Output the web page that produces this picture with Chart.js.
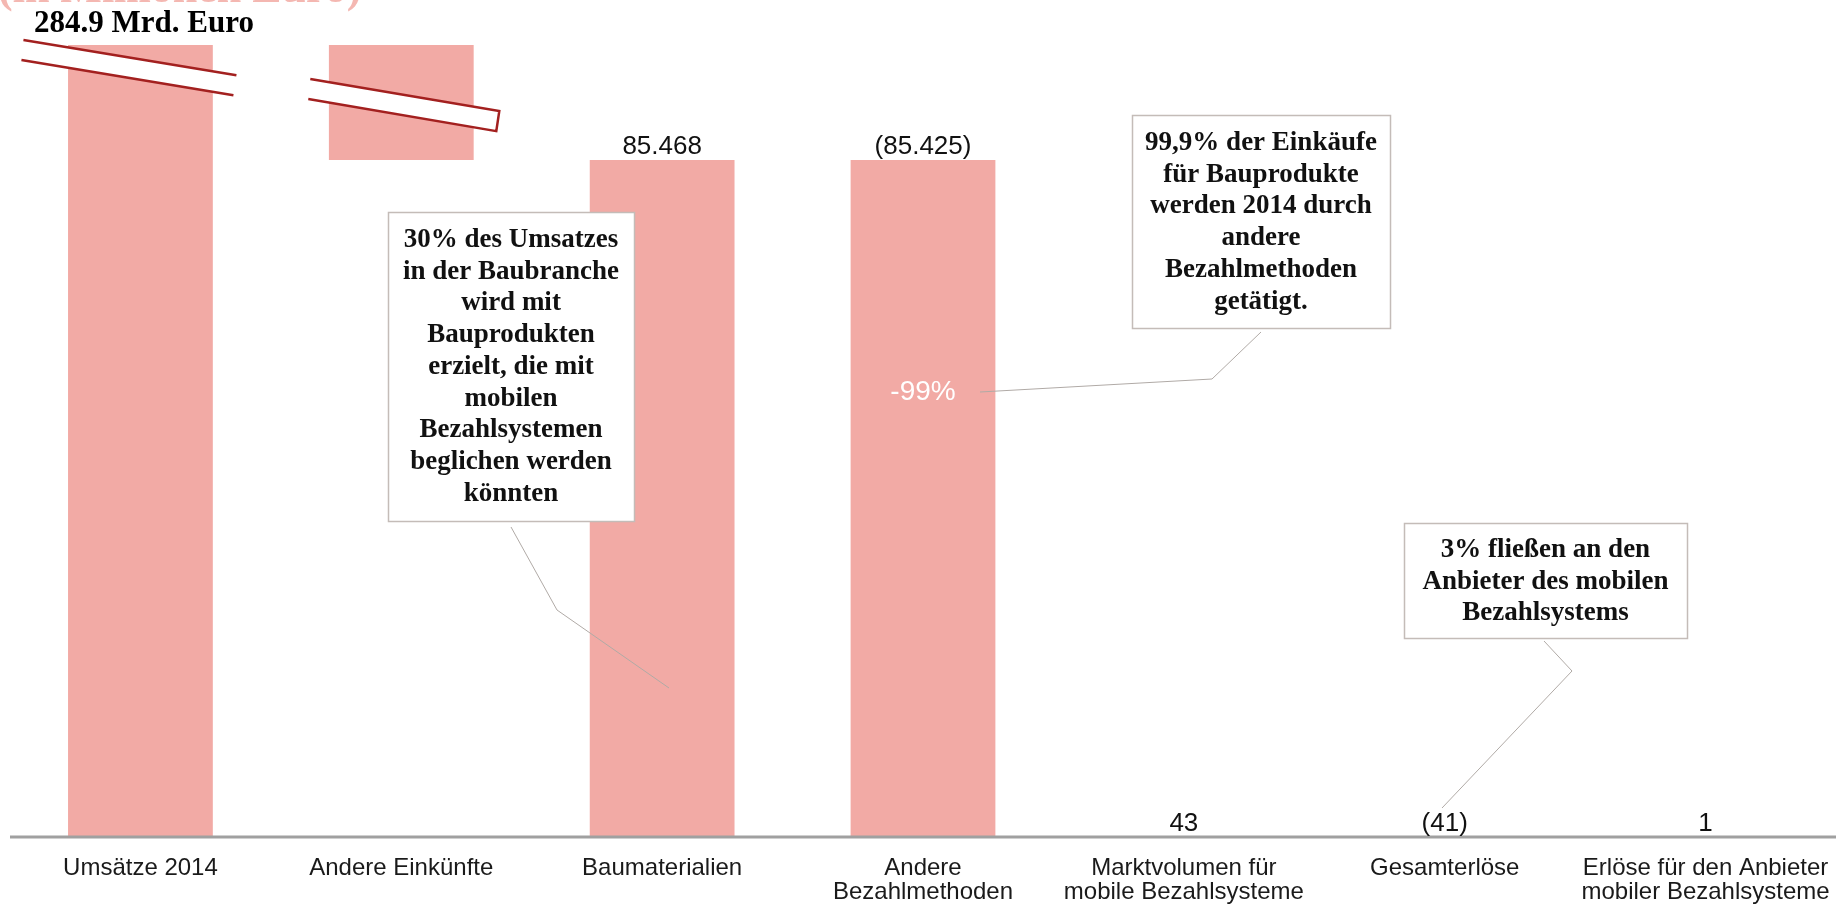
<!DOCTYPE html>
<html>
<head>
<meta charset="utf-8">
<script src="https://cdn.jsdelivr.net/npm/chart.js@4/dist/chart.umd.min.js"></script>
<style>
  html, body { margin: 0; padding: 0; background: #fff; }
  #wrap { width: 1845px; height: 904px; }
</style>
</head>
<body>
<div id="wrap"><canvas id="chart" width="1845" height="904"></canvas></div>
<script>
// Kategorien (Achsenbeschriftung, mehrzeilig)
const categories = [
    ['Umsätze 2014'],
    ['Andere Einkünfte'],
    ['Baumaterialien'],
    ['Andere', 'Bezahlmethoden'],
    ['Marktvolumen für', 'mobile Bezahlsysteme'],
    ['Gesamterlöse'],
    ['Erlöse für den Anbieter', 'mobiler Bezahlsysteme']
];
// Wasserfall: Anfang und Ende jedes Balkens (Mio. Euro)
const barLow  = [0,      85468,  0,     43,    0,  2,  0];
const barHigh = [284900, 284900, 85468, 85468, 43, 43, 1];
// Beschriftungen über den Balken
const valueLabels = ['', '', '85.468', '(85.425)', '43', '(41)', '1'];
// Achse ist unterbrochen, sichtbarer Bereich
const yMin = 0;
const yMax = 100000;

const BAR = '#f2aaa5';
const DARKRED = '#a3201f';
const SANS = '"Liberation Sans", Arial, sans-serif';
const SERIF = '"Liberation Serif", "Times New Roman", serif';

// Hinweisboxen
const callouts = [
    { x: 388, y: 212, w: 246, h: 309, first: 247, lines: ['30% des Umsatzes', 'in der Baubranche', 'wird mit', 'Bauprodukten', 'erzielt, die mit', 'mobilen', 'Bezahlsystemen', 'beglichen werden', 'könnten'],
      path: [[511, 527], [557, 610], [669, 688]] },
    { x: 1132, y: 115, w: 258, h: 213, first: 150, lines: ['99,9% der Einkäufe', 'für Bauprodukte', 'werden 2014 durch', 'andere', 'Bezahlmethoden', 'getätigt.'],
      path: [[980, 392], [1212, 379], [1261, 332]] },
    { x: 1404, y: 523, w: 283, h: 115, first: 557, lines: ['3% fließen an den', 'Anbieter des mobilen', 'Bezahlsystems'],
      path: [[1544, 641], [1572, 671], [1442, 808]] }
];

function drawBreak(ctx, x0, y0, len, slope, gap, closeRight) {
    const x1 = x0 + len, y1 = y0 + len * slope;
    ctx.save();
    ctx.fillStyle = '#fff';
    ctx.beginPath();
    ctx.moveTo(x0, y0); ctx.lineTo(x1, y1);
    ctx.lineTo(x1 - 3, y1 + gap); ctx.lineTo(x0 - 2, y0 + gap);
    ctx.closePath();
    ctx.fill();
    ctx.strokeStyle = DARKRED;
    ctx.lineWidth = 2.5;
    ctx.beginPath();
    ctx.moveTo(x0, y0); ctx.lineTo(x1, y1);
    if (closeRight) ctx.lineTo(x1 - 3, y1 + gap); else ctx.moveTo(x1 - 3, y1 + gap);
    ctx.lineTo(x0 - 2, y0 + gap);
    ctx.stroke();
    ctx.restore();
}

const decorations = {
    id: 'decorations',
    afterDatasetsDraw(chart) {
        const ctx = chart.ctx;
        const xs = chart.scales.x, ys = chart.scales.y;
        const area = chart.chartArea;

        // Achsenlinie
        ctx.save();
        ctx.strokeStyle = '#a0a0a0';
        ctx.lineWidth = 3;
        ctx.beginPath();
        ctx.moveTo(area.left, area.bottom);
        ctx.lineTo(area.right, area.bottom);
        ctx.stroke();

        // Werte über den Balken
        ctx.fillStyle = '#111';
        ctx.font = '26px ' + SANS;
        ctx.textAlign = 'center';
        ctx.textBaseline = 'alphabetic';
        valueLabels.forEach((t, i) => {
            if (!t) return;
            const top = Math.min(ys.getPixelForValue(barHigh[i]), area.bottom);
            ctx.fillText(t, xs.getPixelForValue(i), top - 6);
        });

        // Prozentangabe im Balken
        ctx.fillStyle = '#fff';
        ctx.font = '28px ' + SANS;
        ctx.fillText('-99%', xs.getPixelForValue(3), 400);

        // Kategorien
        ctx.fillStyle = '#1a1a1a';
        ctx.font = '24px ' + SANS;
        categories.forEach((lines, i) => {
            lines.forEach((l, j) => ctx.fillText(l, xs.getPixelForValue(i), 875 + j * 24));
        });
        ctx.restore();

        // Achsenbruch
        const c0 = xs.getPixelForValue(0), c1 = xs.getPixelForValue(1);
        drawBreak(ctx, c0 - 117, 40, 213, 0.165, 20, false);
        drawBreak(ctx, c1 - 91, 79, 189, 0.17, 20, true);

        // Einheit (oben angeschnitten) und Gesamtwert
        ctx.save();
        ctx.textAlign = 'left';
        ctx.fillStyle = '#f4b7b1';
        ctx.font = 'bold 44px ' + SERIF;
        ctx.fillText('(in Millionen Euro)', -2, 2);
        ctx.fillStyle = '#000';
        ctx.font = 'bold 31px ' + SERIF;
        ctx.fillText('284.9 Mrd. Euro', 34, 32);
        ctx.restore();

        // Hinweisboxen mit Verbindungslinien
        ctx.save();
        callouts.forEach(c => {
            ctx.strokeStyle = '#b0aaa6';
            ctx.lineWidth = 1;
            ctx.beginPath();
            c.path.forEach((p, k) => k ? ctx.lineTo(p[0], p[1]) : ctx.moveTo(p[0], p[1]));
            ctx.stroke();
            ctx.fillStyle = '#fff';
            ctx.fillRect(c.x, c.y, c.w, c.h);
            ctx.strokeStyle = '#c4bcb8';
            ctx.lineWidth = 1.5;
            ctx.strokeRect(c.x + 0.5, c.y + 0.5, c.w, c.h);
            ctx.fillStyle = '#111';
            ctx.font = 'bold 27px ' + SERIF;
            ctx.textAlign = 'center';
            c.lines.forEach((l, k) => ctx.fillText(l, c.x + c.w / 2, c.first + k * 31.7));
        });
        ctx.restore();
    }
};

new Chart(document.getElementById('chart').getContext('2d'), {
    type: 'bar',
    data: {
        labels: categories,
        datasets: [{
            data: barLow.map((lo, i) => [lo, barHigh[i]]),
            backgroundColor: BAR,
            borderWidth: 0,
            barPercentage: 0.555,
            categoryPercentage: 1
        }]
    },
    options: {
        responsive: false,
        animation: false,
        layout: { padding: { left: 10, right: 9, top: 45, bottom: 67 } },
        plugins: { legend: { display: false }, tooltip: { enabled: false } },
        scales: {
            x: { display: false, grid: { display: false } },
            y: { display: false, min: yMin, max: yMax, grid: { display: false } }
        }
    },
    plugins: [decorations]
});
</script>
</body>
</html>
